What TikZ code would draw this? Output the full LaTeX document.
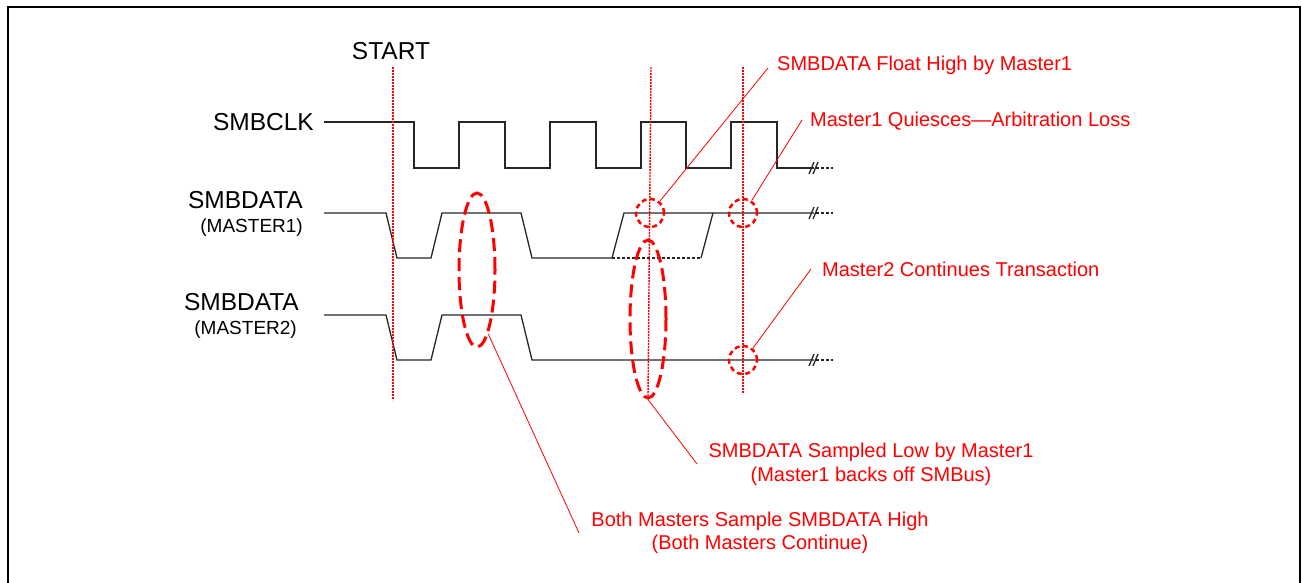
\documentclass[tikz,border=0pt]{standalone}
\usepackage{fontspec}
\setmainfont{Liberation Sans}
\usetikzlibrary{shapes.geometric}
\begin{document}
\begin{tikzpicture}[x=1pt,y=-1pt,
  sig/.style={line width=1.3pt, black!85},
  vmark/.style={red, line width=1.4pt, dash pattern=on 2pt off 1pt},
  ring/.style={circle, draw=red, line width=2.5pt, dash pattern=on 5pt off 3.5pt, minimum size=28pt, inner sep=0pt},
  oval/.style={ellipse, draw=red, line width=3pt, dash pattern=on 13pt off 6pt, minimum width=36pt, inner sep=0pt},
  call/.style={red, line width=0.8pt},
  lab/.style={font=\fontsize{24.5}{28}\selectfont, inner sep=0pt},
  sublab/.style={font=\fontsize{19}{22}\selectfont, inner sep=0pt},
  note/.style={text=red, font=\fontsize{20}{23.5}\selectfont, inner sep=0pt, align=center},
]
\useasboundingbox (0,0) rectangle (1302,582);
\clip (0,0) rectangle (1302,582);
% frame
\draw[line width=2.5pt] (8,600) -- (8,7) -- (1300,7) -- (1300,600);

% labels
\node[lab] (start) at (391,51) {START};
\node[lab, anchor=east] (clk) at (314,122) {SMBCLK};
\node[lab, anchor=east] (d1) at (303,200) {SMBDATA};
\node[sublab, anchor=east] (m1) at (303,228) {(MASTER1)};
\node[lab, anchor=east] (d2) at (299,302) {SMBDATA};
\node[sublab, anchor=east] (m2) at (297,330) {(MASTER2)};

% clock
\draw[sig] (324,122) -- (414,122) -- (414,168) -- (459,168) -- (459,122) -- (505,122) -- (505,168)
  -- (550,168) -- (550,122) -- (596,122) -- (596,168) -- (641,168) -- (641,122) -- (686,122)
  -- (686,168) -- (731,168) -- (731,122) -- (777,122) -- (777,168) -- (814,168);
% master1
\draw[sig] (324,213) -- (386,213) -- (397,258) -- (431,258) -- (442,213) -- (521,213) -- (532,258)
  -- (612,258) -- (624,213) -- (814,213);
\draw[sig, densely dashed] (612,258) -- (701,258);
\draw[sig] (701,258) -- (713,213);
% master2
\draw[sig] (324,315) -- (386,315) -- (397,360) -- (431,360) -- (442,315) -- (521,315) -- (532,360)
  -- (814,360);
% breaks
\foreach \yy in {168,213,360}{
  \draw[sig] (809,\yy+6) -- (814,\yy-6);
  \draw[sig] (813,\yy+6) -- (818,\yy-6);
  \draw[sig, densely dashed] (816,\yy) -- (833,\yy);
}

% red vertical markers
\draw[vmark] (393,67) -- (393,400);
\draw[vmark] (651,67) -- (648,397);
\draw[vmark] (743,67) -- (743,394);

% rings and ovals
\node[ring] (c1) at (650,213) {};
\node[ring] (c2) at (743,213) {};
\node[ring] (c3) at (743,360) {};
\node[oval, minimum height=154pt] (e1) at (477,270) {};
\node[oval, minimum height=158pt] (e2) at (648,319) {};

% notes
\node[note, anchor=west] (n1) at (777,65) {SMBDATA Float High by Master1};
\node[note, anchor=west] (n2) at (810,121) {Master1 Quiesces\textemdash Arbitration Loss};
\node[note, anchor=west] (n3) at (822,269) {Master2 Continues Transaction};
\node[note] (n4) at (871,464.5) {SMBDATA Sampled Low by Master1\\(Master1 backs off SMBus)};
\node[note] (n5) at (760,533) {Both Masters Sample SMBDATA High\\(Both Masters Continue)};

% callout ends
\coordinate (f1) at (768,68);
\coordinate (f2) at (802,120);
\coordinate (f3) at (811,269);
\coordinate (f4) at (697,464);
\coordinate (f5) at (579,533);

\draw[call] (c1.50) -- (f1);
\draw[call] (c2.55) -- (f2);
\draw[call] (c3.50) -- (f3);
\draw[call] (e2.south) -- (f4);
\draw[call] (e1.-80) -- (f5);
\end{tikzpicture}
\end{document}
